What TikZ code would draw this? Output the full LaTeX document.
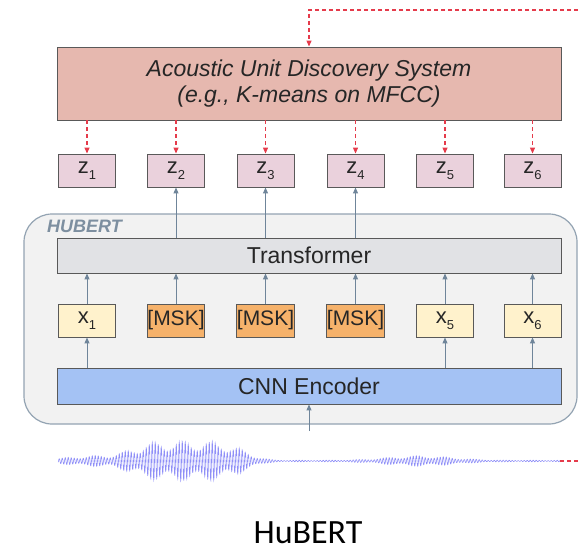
\documentclass[tikz,border=0pt]{standalone}
\usepackage{fontspec}
\setmainfont{Liberation Sans}
\newfontfamily\capfont{Carlito}
\usetikzlibrary{arrows.meta}
\definecolor{unitred}{HTML}{E6B8AF}
\definecolor{zpink}{HTML}{EAD1DC}
\definecolor{xyellow}{HTML}{FFF2CC}
\definecolor{mskorange}{HTML}{F6B26B}
\definecolor{cnnblue}{HTML}{A4C2F4}
\definecolor{trgray}{HTML}{E1E2E5}
\definecolor{hubgray}{HTML}{F2F2F2}
\definecolor{hubline}{HTML}{93A3B2}
\definecolor{hubtext}{HTML}{7D8FA0}
\definecolor{slate}{HTML}{6F859A}
\definecolor{dashred}{HTML}{E53B4B}
\definecolor{wave}{HTML}{6060F4}
\newcommand{\idx}[2]{#1\raisebox{-6pt}{\fontsize{13}{13}\selectfont #2}}
\tikzset{
	box/.style={draw=black!65, line width=0.9pt, text=black!85, minimum width=57pt, minimum height=33pt, inner sep=0pt, font=\fontsize{22}{22}\selectfont},
	widebox/.style={box, minimum width=504pt, minimum height=35pt, font=\fontsize{23}{23}\selectfont},
	up/.style={slate, line width=1pt, -{Triangle[length=6pt,width=5pt]}},
	down/.style={dashred, line width=1.2pt, dash pattern=on 4pt off 3pt, -{Triangle[length=6pt,width=5pt]}},
	declare function={
		gs(\u,\m,\s)=exp(max(-20,-((\u-\m)/\s)*((\u-\m)/\s)));
		gf(\u,\m,\s)=exp(max(-20,-((\u-\m)/\s)*((\u-\m)/\s)*((\u-\m)/\s)*((\u-\m)/\s)));
	},
}
\begin{document}
\begin{tikzpicture}[x=1pt, y=-1pt]
	\useasboundingbox (0,0) rectangle (578,551);
	\draw[hubline, fill=hubgray, line width=1.2pt, rounded corners=28pt] (24,214) rectangle (577,424);
	\node[anchor=west, text=hubtext, font=\bfseries\itshape\fontsize{18}{18}\selectfont, inner sep=0pt] (hublabel) at (47,226) {HUBERT};
	\node[widebox, minimum height=73pt, fill=unitred, align=center, font=\itshape\fontsize{23}{26}\selectfont] (unit) at (309,83.5) {Acoustic Unit Discovery System\\(e.g., K-means on MFCC)};
	\node[widebox, fill=trgray] (tr) at (309,255.5) {Transformer};
	\node[widebox, minimum height=36pt, fill=cnnblue] (cnn) at (309,386) {CNN Encoder};
	\coordinate (fb) at (578,10);
	\draw[down] (fb) -- (309,10) -- (unit.north);
	\foreach \i/\c in {1/87,2/176,3/265.5,4/355.5,5/445,6/532.5} {
		\node[box, fill=zpink] (z\i) at (\c,170.5) {\idx{z}{\i}};
		\draw[down] (z\i.north |- unit.south) -- (z\i.north);
	}
	\foreach \i/\c in {1/87,5/445,6/532.5} {
		\node[box, fill=xyellow] (x\i) at (\c,320.5) {\idx{x}{\i}};
		\draw[up] (x\i.south |- cnn.north) -- (x\i.south);
	}
	\foreach \i/\c in {2/176,3/265.5,4/355.5} {
		\node[box, fill=mskorange, font=\fontsize{21}{21}\selectfont] (x\i) at (\c,320.5) {[MSK]};
		\draw[up] (x\i.north |- tr.north) -- (z\i.south);
	}
	\foreach \i in {1,...,6}
		\draw[up] (x\i.north) -- (x\i.north |- tr.south);
	\coordinate (wavein) at (309,431);
	\draw[up] (wavein) -- (cnn.south);
	\draw[wave, line width=0.6pt, opacity=0.7] plot[domain=19.4:186.6, samples=2400]
		({3*\x}, {461 + (0.75+0.25*sin(37*\x))*(0.8 + 4.5*gs(3*\x,95,40) + 19*gf(3*\x,188,62) + 4.5*gs(3*\x,420,45))*sin(360*(\x-floor(\x)))});
	\coordinate (waveend) at (560,461);
	\draw[dashred, line width=1.2pt, dash pattern=on 4pt off 3pt] (waveend) -- (578,461);
	\node[anchor=base, font=\capfont\fontsize{34}{34}\selectfont, inner sep=0pt] (caption) at (308,543) {HuBERT};
\end{tikzpicture}
\end{document}
